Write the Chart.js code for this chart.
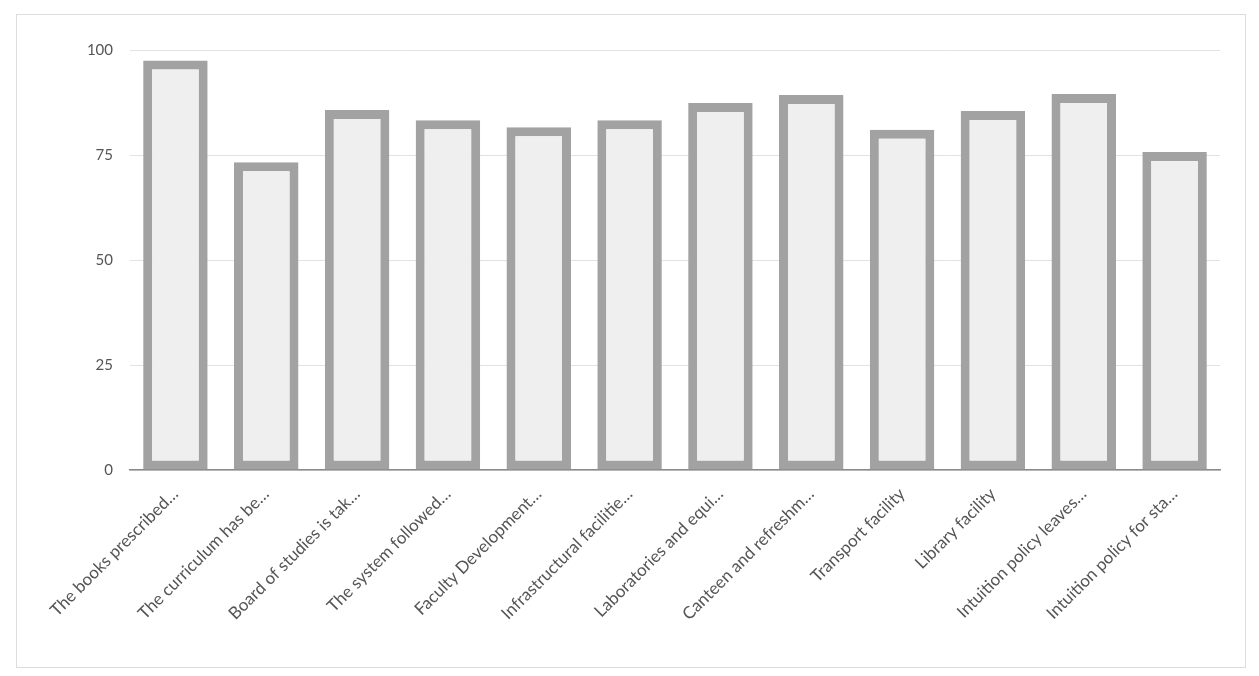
<!DOCTYPE html>
<html>
<head>
<meta charset="utf-8">
<script src="https://cdn.jsdelivr.net/npm/chart.js@4.4.1/dist/chart.umd.min.js"></script>
<style>
  body { margin: 0; background: #fff; }
  #wrap { position: absolute; left: 0; top: 0; width: 1259px; height: 676px; }
  #frame { position: absolute; left: 16px; top: 14px; width: 1228px; height: 652px; border: 1px solid #dcdcdc; pointer-events: none; }
</style>
</head>
<body>
<div id="wrap"><canvas id="myChart"></canvas></div>
<div id="frame"></div>
<script>
// category labels as they appear (truncated) under the bars
var labels = [
  'The books prescribed\u2026',
  'The curriculum has be\u2026',
  'Board of studies is tak\u2026',
  'The system followed\u2026',
  'Faculty Development\u2026',
  'Infrastructural facilitie\u2026',
  'Laboratories and equi\u2026',
  'Canteen and refreshm\u2026',
  'Transport facility',
  'Library facility',
  'Intuition policy leaves\u2026',
  'Intuition policy for sta\u2026'
]

// values
var values = [97.5, 73.3, 85.7, 83.3, 81.6, 83.3, 87.4, 89.3, 81.0, 85.5, 89.5, 75.7]

var yTicks = [0, 25, 50, 75, 100]

var textColor = '#555555'

var ctx = document.getElementById('myChart').getContext('2d')
var chart = new Chart(ctx, {
  type: 'bar',
  data: {
    labels: labels,
    datasets: [{
      data: values,
      backgroundColor: '#efefef',
      borderColor: '#a2a2a2',
      borderWidth: 9,
      borderSkipped: false,
      categoryPercentage: 1,
      barPercentage: 0.71
    }]
  },
  options: {
    responsive: true,
    maintainAspectRatio: false,
    animation: false,
    layout: { padding: { left: 0, right: 39, top: 50, bottom: 0 } },
    plugins: {
      legend: { display: false },
      tooltip: { enabled: false }
    },
    scales: {
      x: {
        grid: { display: false },
        border: { display: true, color: '#8a8a8a', width: 1.5 },
        ticks: {
          color: textColor,
          font: { family: 'Lato', size: 17 },
          maxRotation: 45,
          minRotation: 45,
          autoSkip: false,
          padding: 6
        },
        afterFit: function (scale) { scale.height = 206 }
      },
      y: {
        min: 0,
        max: 100,
        afterBuildTicks: function (scale) {
          scale.ticks = yTicks.map(function (v) { return { value: v } })
        },
        grid: { color: '#e2e2e2', lineWidth: 1, drawTicks: false },
        border: { display: false },
        ticks: {
          color: textColor,
          font: { family: 'Lato', size: 15 },
          padding: 17
        },
        afterFit: function (scale) { scale.width = 130 }
      }
    }
  }
})
</script>
</body>
</html>
